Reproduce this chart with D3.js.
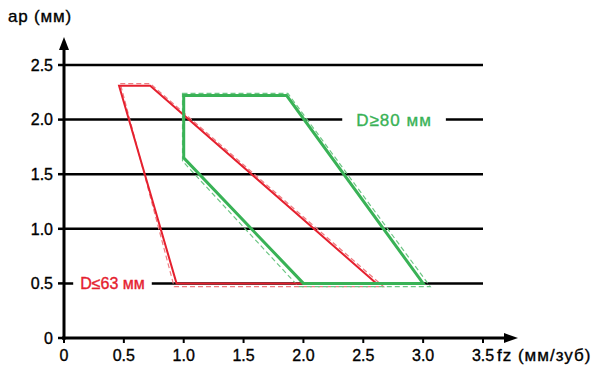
<!DOCTYPE html>
<html>
<head>
	<meta charset="utf-8">
	<script src="https://cdnjs.cloudflare.com/ajax/libs/d3/7.8.5/d3.min.js"></script>
	<style>
	body { margin: 0; background: #fff; }
	text { font-family: "Liberation Sans", Arial, sans-serif; stroke-width: 0.35px; }
	</style>
</head>
<body>
	<svg width="597" height="365"></svg>
	<script>
	// data
	let xTicks = [0, 0.5, 1.0, 1.5, 2.0, 2.5, 3.0, 3.5],
		xTickLabels = ["0", "0.5", "1.0", "1.5", "2.0", "2.5", "3.0", "3.5"],
		yTicks = [0, 0.5, 1.0, 1.5, 2.0, 2.5],
		yTickLabels = ["0", "0.5", "1.0", "1.5", "2.0", "2.5"];

	// D<=63 zone (solid and dashed outlines)
	let smallSolid = [[0.46, 2.31], [0.72, 2.31], [2.61, 0.5], [0.94, 0.5]],
		smallDashed = [[0.47, 2.33], [0.72, 2.33], [2.67, 0.47], [0.92, 0.47]];
	// D>=80 zone
	let bigSolid = [[1.0, 2.22], [1.86, 2.22], [3.0, 0.5], [2.0, 0.5], [1.0, 1.65]],
		bigDashed = [[0.99, 2.24], [1.87, 2.24], [3.06, 0.47], [1.96, 0.47], [0.99, 1.62]];

	let labels = [
		{text: "D≤63 мм", x: 0.405, y: 0.5, color: "#e5202e", size: 16, spacing: 0, pad: 7},
		{text: "D≥80 мм", x: 2.757, y: 2.0, color: "#39b256", size: 17, spacing: 1, pad: 14}
	];

	let svg = d3.select("svg");

	let x = d3.scaleLinear().domain([0, 3.5]).range([64, 483]),
		y = d3.scaleLinear().domain([0, 2.5]).range([338, 65]);

	let line = d3.line()
		.x(function(d) { return x(d[0]); })
		.y(function(d) { return y(d[1]); })
		.curve(d3.curveLinearClosed);

	//gridlines
	svg.append("g").selectAll("line")
		.data(yTicks.slice(1))
		.enter().append("line")
		.attr("x1", x(0)).attr("x2", x(3.5))
		.attr("y1", function(d) { return y(d); })
		.attr("y2", function(d) { return y(d); })
		.attr("stroke", "#000")
		.attr("stroke-width", 2.5);

	//dashed outlines
	svg.append("path").attr("d", line(smallDashed))
		.attr("fill", "none").attr("stroke", "#ef7a80")
		.attr("stroke-width", 1.2).attr("stroke-dasharray", "5,3");
	svg.append("path").attr("d", line(bigDashed))
		.attr("fill", "none").attr("stroke", "#6cc583")
		.attr("stroke-width", 1.2).attr("stroke-dasharray", "5,3");

	//solid outlines
	svg.append("path").attr("d", line(smallSolid))
		.attr("fill", "none").attr("stroke", "#e5202e")
		.attr("stroke-width", 2).attr("stroke-linejoin", "miter");
	svg.append("path").attr("d", line(bigSolid))
		.attr("fill", "none").attr("stroke", "#39b256")
		.attr("stroke-width", 3).attr("stroke-linejoin", "miter");

	//zone labels on a white gap
	labels.forEach(function(l) {
		let g = svg.append("g");
		let rect = g.append("rect").attr("fill", "#fff");
		let t = g.append("text")
			.attr("x", x(l.x)).attr("y", y(l.y))
			.attr("dy", "0.36em")
			.attr("text-anchor", "middle")
			.attr("fill", l.color)
			.attr("stroke", l.color)
			.style("font-size", l.size + "px")
			.style("letter-spacing", l.spacing + "px")
			.text(l.text);
		let b = t.node().getBBox();
		rect.attr("x", b.x - l.pad).attr("y", y(l.y) - 3)
			.attr("width", b.width + 2 * l.pad).attr("height", 6);
	});

	//axes
	let axis = svg.append("g");
	axis.append("line")
		.attr("x1", x(0)).attr("x2", x(0))
		.attr("y1", y(0) + 2).attr("y2", 44)
		.attr("stroke", "#000").attr("stroke-width", 3);
	axis.append("path")
		.attr("d", "M" + x(0) + ",37L" + (x(0) - 5) + ",50L" + (x(0) + 5) + ",50Z")
		.attr("fill", "#000");
	axis.append("line")
		.attr("x1", x(0) - 2).attr("x2", 510)
		.attr("y1", y(0)).attr("y2", y(0))
		.attr("stroke", "#000").attr("stroke-width", 3);
	axis.append("path")
		.attr("d", "M518," + y(0) + "L504," + (y(0) - 5) + "L504," + (y(0) + 5) + "Z")
		.attr("fill", "#000");

	//y ticks
	axis.selectAll(".yt")
		.data(yTicks)
		.enter().append("line")
		.attr("x1", x(0) - 6).attr("x2", x(0))
		.attr("y1", function(d) { return y(d); })
		.attr("y2", function(d) { return y(d); })
		.attr("stroke", "#000").attr("stroke-width", 2.5);
	axis.selectAll(".yl")
		.data(yTicks)
		.enter().append("text")
		.attr("x", x(0) - 11)
		.attr("y", function(d) { return y(d); })
		.attr("dy", "0.36em")
		.attr("text-anchor", "end")
		.attr("stroke", "#000")
		.style("font-size", "16px")
		.text(function(d, i) { return yTickLabels[i]; });

	//x ticks
	axis.selectAll(".xt")
		.data(xTicks)
		.enter().append("line")
		.attr("x1", function(d) { return x(d); })
		.attr("x2", function(d) { return x(d); })
		.attr("y1", y(0)).attr("y2", y(0) + 5)
		.attr("stroke", "#000").attr("stroke-width", 2);
	axis.selectAll(".xl")
		.data(xTicks)
		.enter().append("text")
		.attr("x", function(d) { return x(d); })
		.attr("y", 361)
		.attr("text-anchor", "middle")
		.attr("stroke", "#000")
		.style("font-size", "16px")
		.text(function(d, i) { return xTickLabels[i]; });

	//axis titles
	svg.append("text")
		.attr("x", 8).attr("y", 22)
		.attr("stroke", "#000")
		.style("font-size", "17px")
		.style("letter-spacing", "0.8px")
		.text("ap (мм)");
	svg.append("text")
		.attr("x", 497).attr("y", 361)
		.attr("stroke", "#000")
		.style("font-size", "17px")
		.style("letter-spacing", "1px")
		.text("fz (мм/зуб)");
	</script>
</body>
</html>
